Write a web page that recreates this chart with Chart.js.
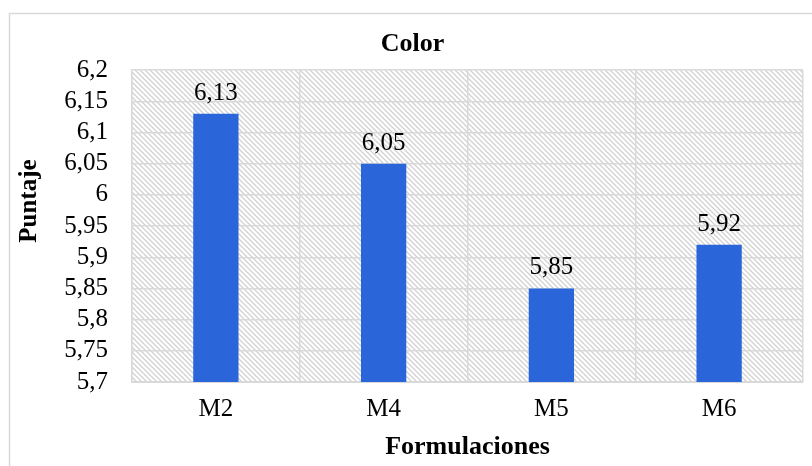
<!DOCTYPE html>
<html>
<head>
<meta charset="utf-8">
<script src="https://cdn.jsdelivr.net/npm/chart.js@4/dist/chart.umd.min.js"></script>
<style>
  html, body { margin: 0; padding: 0; background: #ffffff; }
  #wrap { width: 812px; height: 466px; }
</style>
</head>
<body>
<div id="wrap"><canvas id="chart" width="812" height="466"></canvas></div>
<script>
// Puntaje de color por formulación
const categories = ['M2', 'M4', 'M5', 'M6'];
const puntaje = [6.13, 6.05, 5.85, 5.92];
const yTickValues = [5.7, 5.75, 5.8, 5.85, 5.9, 5.95, 6.0, 6.05, 6.1, 6.15, 6.2];
const yTickLabels = ['5,7', '5,75', '5,8', '5,85', '5,9', '5,95', '6', '6,05', '6,1', '6,15', '6,2'];

const SERIF = '"Liberation Serif", "Times New Roman", serif';
const GRID = '#d9d9d9';

const decimalComma = v => String(v).replace('.', ',');

// Diagonal hatch fill for the plot area
function hatchPattern(ctx) {
  const size = 5;
  const c = document.createElement('canvas');
  c.width = size; c.height = size;
  const g = c.getContext('2d');
  g.fillStyle = '#ffffff';
  g.fillRect(0, 0, size, size);
  g.strokeStyle = '#d2d2d2';
  g.lineWidth = 1.3;
  g.beginPath();
  g.moveTo(-1, -1); g.lineTo(size + 1, size + 1);
  g.moveTo(-1, size - 1); g.lineTo(1, size + 1);
  g.moveTo(size - 1, -1); g.lineTo(size + 1, 1);
  g.stroke();
  return ctx.createPattern(c, 'repeat');
}

const backdrop = {
  id: 'backdrop',
  beforeDraw(chart) {
    const { ctx, chartArea: a } = chart;
    ctx.save();
    ctx.strokeStyle = GRID;
    ctx.lineWidth = 1.5;
    ctx.strokeRect(9.5, 13.5, 840, 480);
    ctx.fillStyle = hatchPattern(ctx);
    ctx.fillRect(a.left, a.top, a.right - a.left, a.bottom - a.top);
    ctx.restore();
  }
};

const valueLabels = {
  id: 'valueLabels',
  afterDatasetsDraw(chart) {
    const { ctx } = chart;
    const meta = chart.getDatasetMeta(0);
    ctx.save();
    ctx.font = '25px ' + SERIF;
    ctx.fillStyle = '#000000';
    ctx.textAlign = 'center';
    ctx.textBaseline = 'alphabetic';
    meta.data.forEach((bar, i) => {
      ctx.fillText(decimalComma(puntaje[i]), bar.x, bar.y - 14);
    });
    ctx.restore();
  }
};

new Chart(document.getElementById('chart'), {
  type: 'bar',
  data: {
    labels: categories,
    datasets: [{
      data: puntaje,
      backgroundColor: '#2a66da',
      borderWidth: 0,
      categoryPercentage: 1,
      barPercentage: 0.27
    }]
  },
  options: {
    responsive: false,
    animation: false,
    layout: { padding: { left: 9, right: 9, top: 0, bottom: 0 } },
    plugins: {
      legend: { display: false },
      tooltip: { enabled: false },
      title: {
        display: true,
        // leading spaces nudge the centred title slightly to the right
        text: '  Color',
        color: '#000000',
        font: { family: SERIF, size: 26, weight: 'bold' },
        padding: { top: 29, bottom: 10 }
      }
    },
    scales: {
      x: {
        afterFit(scale) { scale.height = 84; },
        grid: { color: GRID, lineWidth: 1.5, drawTicks: false, offset: true },
        border: { color: GRID, width: 2 },
        ticks: { color: '#000000', font: { family: SERIF, size: 25 }, padding: 12 },
        title: {
          display: true,
          text: 'Formulaciones',
          color: '#000000',
          font: { family: SERIF, size: 26, weight: 'bold' },
          padding: { top: 0, bottom: 3 }
        }
      },
      y: {
        min: 5.7,
        max: 6.2,
        afterBuildTicks(scale) {
          scale.ticks = yTickValues.map(v => ({ value: v }));
        },
        afterFit(scale) { scale.width = 123; },
        grid: { color: GRID, lineWidth: 1.5, drawTicks: false },
        border: { color: GRID, width: 1.5 },
        ticks: {
          color: '#000000',
          font: { family: SERIF, size: 25 },
          padding: 24,
          autoSkip: false,
          callback: (v, i) => yTickLabels[i]
        },
        title: {
          display: true,
          // leading spaces lift the rotated title above the axis centre
          text: '        Puntaje',
          color: '#000000',
          font: { family: SERIF, size: 25, weight: 'bold' },
          padding: { top: 6, bottom: 0 }
        }
      }
    }
  },
  plugins: [backdrop, valueLabels]
});
</script>
</body>
</html>
